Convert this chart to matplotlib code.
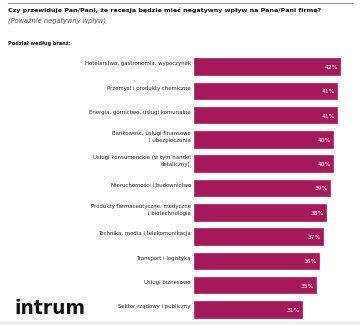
import matplotlib.pyplot as plt
from matplotlib.patches import Rectangle
from matplotlib.lines import Line2D

plt.rcParams['font.family'] = ['DejaVu Sans']

# share of firms expecting a seriously negative impact, by sector
sectors = [
    "Hotelarstwo, gastronomia, wypoczynek",
    "Przemysł i produkty chemiczne",
    "Energia, górnictwo, usługi komunalne",
    "Bankowość, usługi finansowe\ni ubezpieczenia",
    "Usługi konsumenckie (w tym handel\ndetaliczny)",
    "Nieruchomości i budownictwo",
    "Produkty farmaceutyczne, medyczne\ni biotechnologie",
    "Technika, media i telekomunikacja",
    "Transport i logistyka",
    "Usługi biznesowe",
    "Sektor rządowy i publiczny",
]
values = [42, 41, 41, 40, 40, 39, 38, 37, 36, 35, 31]

W, H = 360, 325
fig = plt.figure(figsize=(W / 100, H / 100), dpi=100)

def px(x, y):
    return x / W, 1 - y / H

# top rule and bottom band
fig.add_artist(Line2D([8 / W, 352 / W], [1 - 2.5 / H] * 2, color='#9a9a9a', lw=0.9))
fig.add_artist(Rectangle((0, 0), 1, 4 / H, color='#efefef', lw=0, transform=fig.transFigure))

fig.text(*px(8, 10), "Czy przewiduje Pan/Pani, że recesja będzie mieć negatywny wpływ na Pana/Pani firmę?",
         fontsize=4.55, fontweight='bold', va='center', ha='left', color='#111111')
fig.text(*px(8, 20.5), "(Poważnie negatywny wpływ)", fontsize=4.8, style='italic',
         va='center', ha='left', color='#555555')
fig.text(*px(8, 44), "Podział według branż:", fontsize=3.6, fontweight='bold',
         va='center', ha='left', color='#111111')

fig.text(*px(14, 308), "intrum", fontsize=13.5, fontweight='bold', va='center', ha='left',
         color='#111111')

top, bottom = 54.85, 322.15
ax = fig.add_axes([194 / W, 1 - bottom / H, 157.5 / W, (bottom - top) / H])
pos = list(range(len(values)))
ax.barh(pos, values, height=0.72, color='#A4195C', edgecolor='#e9c3d5', linewidth=0.3)
ax.set_xlim(0, 45)
ax.set_ylim(len(values) - 0.5, -0.5)
ax.axis('off')

for i, (s, v) in enumerate(zip(sectors, values)):
    ax.text(-0.9, i - 0.13, s, fontsize=3.9, ha='right', va='center', color='#222222',
            linespacing=1.5)
    ax.text(v - 0.8, i + 0.02, f"{v}%", fontsize=4.3, ha='right', va='center', color='white')

fig.savefig('out.png', dpi=100)
